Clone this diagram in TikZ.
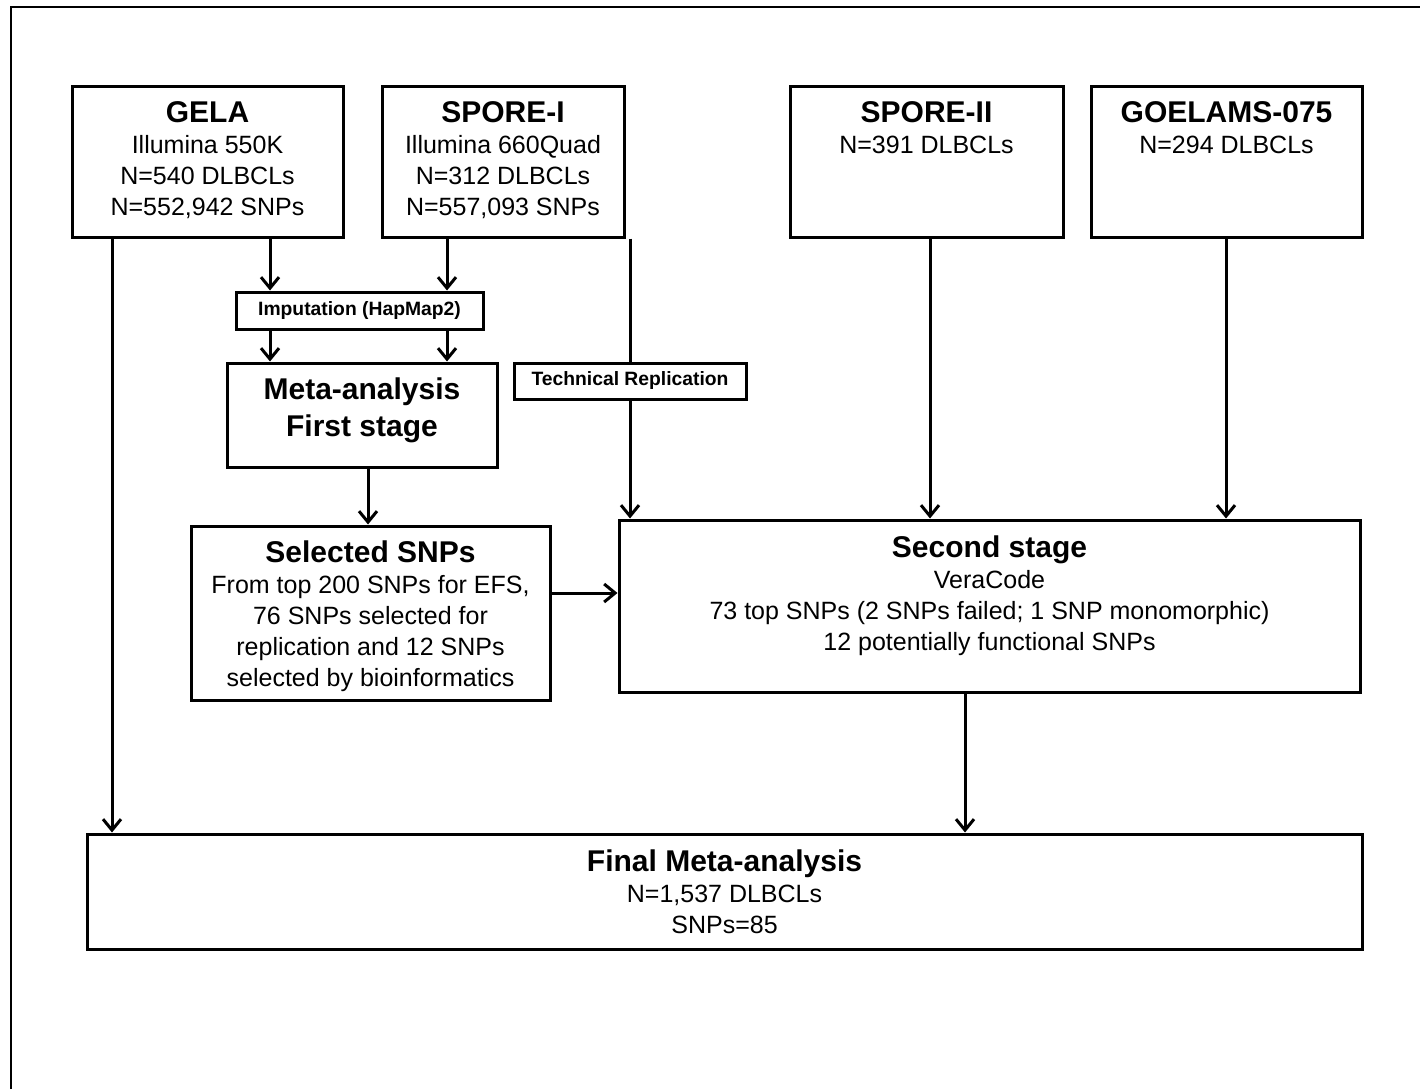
\documentclass[tikz,border=0pt]{standalone}
\usepackage{fontspec}
\setmainfont{Liberation Sans}
\usetikzlibrary{arrows.meta,calc}
\begin{document}
\begin{tikzpicture}[x=1pt,y=-1pt,
  box/.style={draw,line width=3pt,fill=white,rectangle,inner sep=0pt},
  txt/.style={anchor=north,align=center,inner sep=0pt,font=\fontsize{25}{31}\selectfont},
  small/.style={font=\bfseries\fontsize{19.3}{23}\selectfont},
  arr/.style={line width=3pt,-{Straight Barb[length=11pt,width=18pt,line width=3pt]}},
  ln/.style={line width=3pt},
  frame/.style={line width=2pt}]
\newcommand{\ttl}[1]{{\bfseries\fontsize{30}{31}\selectfont #1}}
\useasboundingbox (0,0) rectangle (1420,1089);
\draw[frame] (11,1089) -- (11,7) -- (1420,7);

% boxes
\node[box,minimum width=271pt,minimum height=150pt] (gela) at (207.5,162) {};
\node[box,minimum width=242pt,minimum height=150pt] (sp1) at (503,162) {};
\node[box,minimum width=273pt,minimum height=150pt] (sp2) at (926.5,162) {};
\node[box,minimum width=271pt,minimum height=150pt] (goe) at (1226.5,162) {};
\node[box,minimum width=247pt,minimum height=37pt,small] (imp) at (359.5,310.5) {Imputation (HapMap2)};
\node[box,minimum width=270pt,minimum height=104pt] (meta) at (362,415) {};
\node[box,minimum width=359pt,minimum height=174pt] (sel) at (370.5,613) {};
\node[box,minimum width=741pt,minimum height=172pt] (sec) at (989.5,606) {};
\node[box,minimum width=1275pt,minimum height=115pt] (fin) at (724.5,891.5) {};

% texts
\node[txt] (tgela) at ($(gela.north)+(0,16)$) {\ttl{GELA}\\Illumina 550K\\N=540 DLBCLs\\N=552,942 SNPs};
\node[txt] (tsp1) at ($(sp1.north)+(0,16)$) {\ttl{SPORE-I}\\Illumina 660Quad\\N=312 DLBCLs\\N=557,093 SNPs};
\node[txt] (tsp2) at ($(sp2.north)+(0,16)$) {\ttl{SPORE-II}\\N=391 DLBCLs};
\node[txt] (tgoe) at ($(goe.north)+(0,16)$) {\ttl{GOELAMS-075}\\N=294 DLBCLs};
\node[txt] (tmeta) at ($(meta.north)+(0,16)$) {\ttl{Meta-analysis}\\[6pt]\ttl{First stage}};
\node[txt] (tsel) at ($(sel.north)+(0,16)$) {\ttl{Selected SNPs}\\From top 200 SNPs for EFS,\\76 SNPs selected for\\replication and 12 SNPs\\selected by bioinformatics};
\node[txt] (tsec) at ($(sec.north)+(0,17)$) {\ttl{Second stage}\\VeraCode\\73 top SNPs (2 SNPs failed; 1 SNP monomorphic)\\12 potentially functional SNPs};
\node[txt] (tfin) at ($(fin.north)+(0,17)$) {\ttl{Final Meta-analysis}\\N=1,537 DLBCLs\\SNPs=85};

% x positions of connectors
\coordinate (xa) at (112,0);
\coordinate (xb) at (270,0);
\coordinate (xc) at (447,0);
\coordinate (xd) at (630,0);
\coordinate (xe) at (368,0);
\coordinate (xf) at (930,0);
\coordinate (xg) at (1226,0);
\coordinate (xh) at (965,0);
\coordinate (ys) at (0,593);

% technical replication box (line passes behind it)
\node[box,minimum width=232pt,minimum height=36pt,small] (tr) at (630,381) {Technical Replication};

% connectors
\draw[arr] (gela.south -| xa) -- (fin.north -| xa);
\draw[arr] (gela.south -| xb) -- (imp.north -| xb);
\draw[arr] (sp1.south -| xc) -- (imp.north -| xc);
\draw[arr] (imp.south -| xb) -- (meta.north -| xb);
\draw[arr] (imp.south -| xc) -- (meta.north -| xc);
\draw[ln] (sp1.south -| xd) -- (tr.north -| xd);
\draw[arr] (tr.south -| xd) -- (sec.north -| xd);
\draw[arr] (meta.south -| xe) -- (sel.north -| xe);
\draw[arr] (sel.east |- ys) -- (sec.west |- ys);
\draw[arr] (sp2.south -| xf) -- (sec.north -| xf);
\draw[arr] (goe.south -| xg) -- (sec.north -| xg);
\draw[arr] (sec.south -| xh) -- (fin.north -| xh);
\end{tikzpicture}
\end{document}
